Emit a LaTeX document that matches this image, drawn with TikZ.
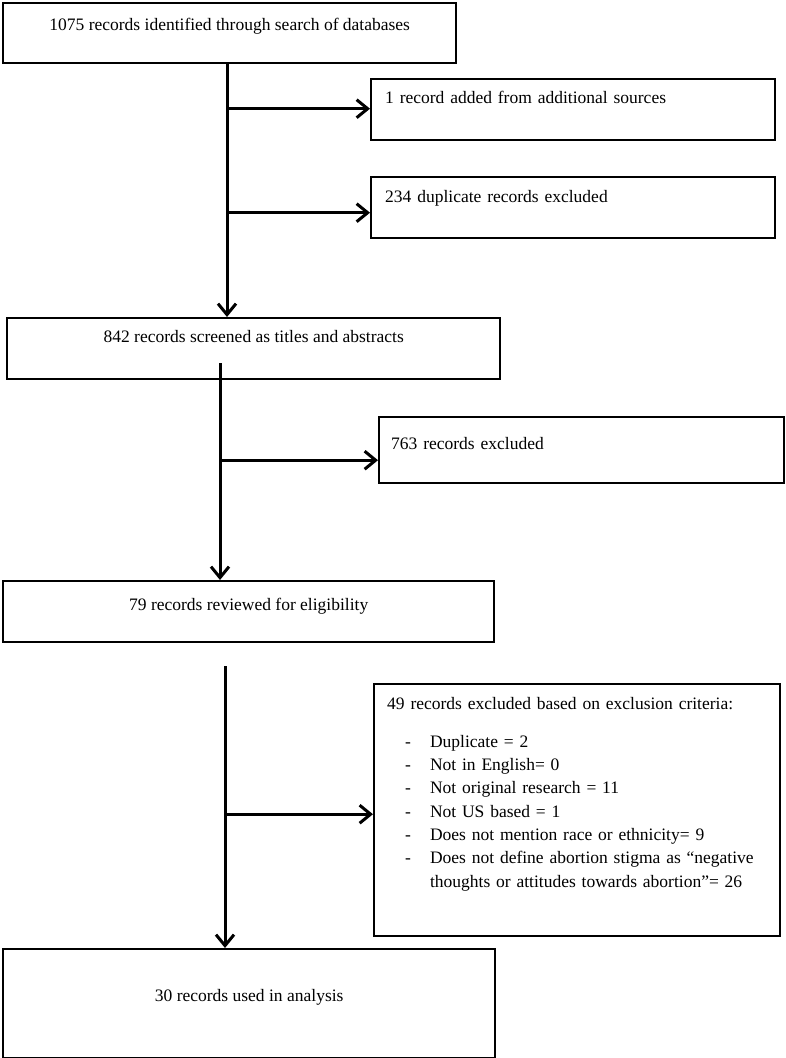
\documentclass[tikz,border=0pt]{standalone}
\usepackage{fontspec}
\setmainfont{Liberation Serif}
\usetikzlibrary{arrows.meta}

\begin{document}
\begin{tikzpicture}[x=1pt, y=-1pt,
	box/.style={draw, line width=2.4pt, rectangle, anchor=north west, inner sep=0pt, font=\fontsize{17.5}{23.3}\selectfont},
	sidebox/.style={box, inner xsep=13pt, align=left},
	flow/.style={line width=3pt, -{Straight Barb[length=11pt,width=18pt]}}]
	\useasboundingbox (0,0) rectangle (785,1058);
	%main column
	\node[box, minimum width=453pt, minimum height=60pt, text height=27pt, text depth=33pt] (found) at (2,2) {1075 records identified through search of databases};
	\node[box, minimum width=493pt, minimum height=61pt, text height=24pt, text depth=37pt] (screened) at (6,317) {842 records screened as titles and abstracts};
	\node[box, minimum width=491pt, minimum height=61pt, text height=29pt, text depth=32pt] (reviewed) at (2,580) {79 records reviewed for eligibility};
	\node[box, minimum width=492pt, minimum height=109pt, text height=52pt, text depth=57pt] (used) at (2,948) {30 records used in analysis};
	%side boxes
	\node[sidebox, inner xsep=14pt, text width=376pt, text height=24pt, text depth=37pt] (added) at (370,78) {1 record added from additional sources};
	\node[sidebox, inner xsep=14pt, text width=376pt, text height=25pt, text depth=36pt] (dupl) at (370,176) {234 duplicate records excluded};
	\node[sidebox, inner xsep=12pt, text width=381pt, text height=32pt, text depth=34pt] (excl) at (378,416) {763 records excluded};
	\node[sidebox, text width=380pt, text height=25pt, text depth=227pt] (criteria) at (373,683) {49 records excluded based on exclusion criteria:\\[14.7pt]
		\begin{tabular}[t]{@{\hspace{18pt}}l@{\hspace{19pt}}p{335pt}@{}}
		- & Duplicate = 2\\
		- & Not in English= 0\\
		- & Not original research = 11\\
		- & Not US based = 1\\
		- & Does not mention race or ethnicity= 9\\
		- & Does not define abortion stigma as “negative\newline thoughts or attitudes towards abortion”= 26
		\end{tabular}};
	%connectors
	\coordinate (j1) at (227,62);
	\coordinate (j2) at (220,363);
	\coordinate (j3) at (225,666);
	\draw[flow] (j1) -- (j1 |- screened.north);
	\draw[flow] ([yshift=1pt]added.west -| j1) -- ([yshift=1pt]added.west);
	\draw[flow] ([yshift=-5pt]dupl.west -| j1) -- ([yshift=-5pt]dupl.west);
	\draw[flow] (j2) -- (j2 |- reviewed.north);
	\draw[flow] ([yshift=-10pt]excl.west -| j2) -- ([yshift=-10pt]excl.west);
	\draw[flow] (j3) -- (j3 |- used.north);
	\draw[flow] ([yshift=-4pt]criteria.west -| j3) -- ([yshift=-4pt]criteria.west);
\end{tikzpicture}
\end{document}
